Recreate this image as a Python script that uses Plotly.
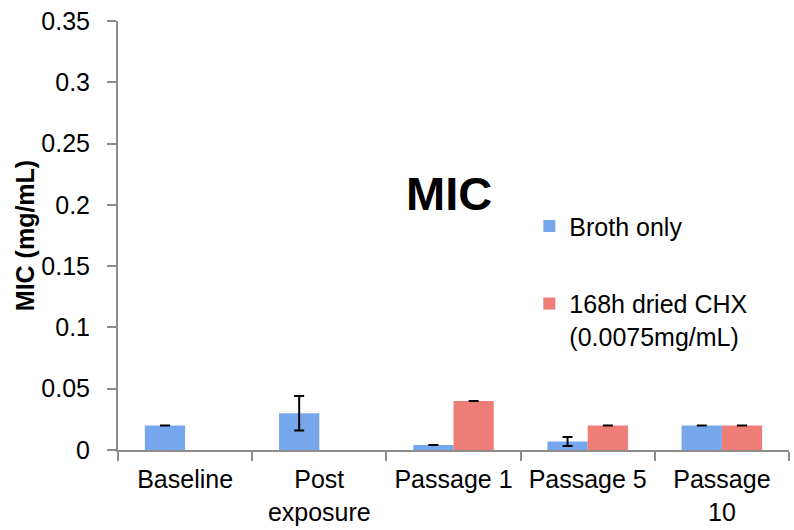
import plotly.graph_objects as go

categories = ["Baseline", "Post<br>exposure", "Passage 1", "Passage 5", "Passage<br>10"]
broth_vals = [0.02, 0.03, 0.004, 0.007, 0.02]
broth_err = [0.0, 0.014, 0.0, 0.0037, 0.0]
chx_vals = [None, None, 0.04, 0.02, 0.02]
chx_err = [0.0, 0.0, 0.0, 0.0, 0.0]
y_ticks = [0, 0.05, 0.1, 0.15, 0.2, 0.25, 0.3, 0.35]
y_tick_text = ["0", "0.05", "0.1", "0.15", "0.2", "0.25", "0.3", "0.35"]

font_family = "Liberation Sans, Arial, sans-serif"

fig = go.Figure()
fig.add_trace(go.Bar(
    x=categories, y=broth_vals, name="Broth only",
    legendgroup="a",
    marker=dict(color="#76a7ec", line=dict(width=0)),
    error_y=dict(type="data", array=broth_err, visible=True, color="black", thickness=2, width=5),
))
fig.add_trace(go.Bar(
    x=categories, y=chx_vals, name="168h dried CHX<br>(0.0075mg/mL)",
    legendgroup="b",
    marker=dict(color="#ee7c77", line=dict(width=0)),
    error_y=dict(type="data", array=chx_err, visible=True, color="black", thickness=2, width=5),
))

fig.update_layout(
    width=794, height=530,
    margin=dict(l=118, r=5, t=21, b=80),
    paper_bgcolor="white", plot_bgcolor="white",
    font=dict(family=font_family, size=25, color="black"),
    barmode="group", bargap=0.4, bargroupgap=0,
    showlegend=True,
    legend=dict(
        x=0.613, y=0.575, xanchor="left", yanchor="top",
        font=dict(size=25), tracegroupgap=42, valign="top",
        traceorder="grouped", bgcolor="rgba(0,0,0,0)",
    ),
    annotations=[dict(
        text="<b>MIC</b>", x=0.493, y=0.597, xref="paper", yref="paper",
        showarrow=False, font=dict(size=47, color="black"),
    )],
)
fig.update_xaxes(
    showline=True, linecolor="#8c8c8c", linewidth=2,
    ticks="outside", tickson="boundaries", ticklen=9, tickcolor="#8c8c8c", tickwidth=2,
    showgrid=False, tickfont=dict(size=25), ticklabelstandoff=6,
)
fig.update_yaxes(
    range=[0, 0.35], tickvals=y_ticks, ticktext=y_tick_text,
    showline=True, linecolor="#8c8c8c", linewidth=2,
    ticks="outside", ticklen=9, tickcolor="#8c8c8c", tickwidth=2,
    showgrid=False, zeroline=False, tickfont=dict(size=25), ticklabelstandoff=12,
    title=dict(text="<b>MIC (mg/mL)</b>", font=dict(size=25), standoff=0),
)

fig.write_html("out.html")
